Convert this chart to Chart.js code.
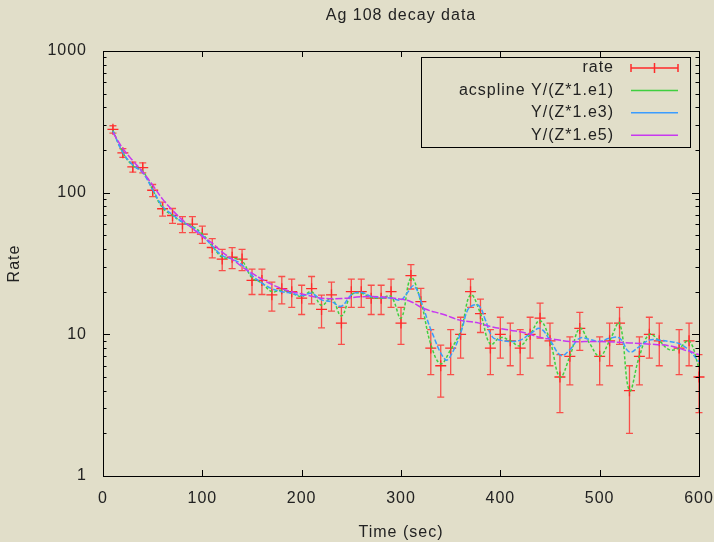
<!DOCTYPE html>
<html>
<head>
<meta charset="utf-8">
<script src="https://cdn.jsdelivr.net/npm/chart.js@4/dist/chart.umd.min.js"></script>
<style>
  html, body { margin: 0; padding: 0; background: #e1dec9; }
  canvas { display: block; }
</style>
</head>
<body>
<canvas id="chart" width="714" height="542"></canvas>
<script>
// 測定データ (rate)
const rateTime = [10, 20, 30, 40, 50, 60, 70, 80, 90, 100,
  110, 120, 130, 140, 150, 160, 170, 180, 190, 200,
  210, 220, 230, 240, 250, 260, 270, 280, 290, 300,
  310, 320, 330, 340, 350, 360, 370, 380, 390, 400,
  410, 420, 430, 440, 450, 460, 470, 480,
  500, 510, 520, 530, 540, 550, 560,
  580, 590, 600];
const rateValue = [280, 191, 152, 150, 104, 77, 69, 60, 60, 51,
  41, 34, 35, 34, 24, 24, 19, 21, 20, 18,
  21, 15, 19, 12, 20, 20, 18, 18, 20, 12,
  26, 17, 8, 6, 8, 10, 20, 14, 8, 10,
  9, 8, 10, 13, 9, 5, 7, 11,
  7, 9, 12, 4, 7, 10, 9,
  8, 9, 5];
const rateErr = [16.7, 13.8, 12.3, 12.2, 10.2, 8.8, 8.3, 7.7, 7.7, 7.1,
  6.4, 5.8, 5.9, 5.8, 4.9, 4.9, 4.4, 4.6, 4.5, 4.2,
  4.6, 3.9, 4.4, 3.5, 4.5, 4.5, 4.2, 4.2, 4.5, 3.5,
  5.1, 4.1, 2.8, 2.4, 2.8, 3.2, 4.5, 3.7, 2.8, 3.2,
  3.0, 2.8, 3.2, 3.6, 3.0, 2.2, 2.6, 3.3,
  2.6, 3.0, 3.5, 2.0, 2.6, 3.2, 3.0,
  2.8, 3.0, 2.2];

// acspline Y/(Z*1.e1)
const e1Time = [10, 20, 30, 40, 50, 60, 70, 80, 90, 100,
  110, 120, 130, 140, 150, 160, 170, 180, 190, 200,
  210, 220, 230, 240, 250, 260, 270, 280, 290, 300,
  310, 320, 330, 340, 350, 360, 370, 380, 390, 400,
  410, 420, 430, 440, 450, 460, 470, 480, 490, 500,
  510, 520, 530, 540, 550, 560, 570, 580, 590, 600];
const e1Rate = [275, 192, 155, 142, 105, 78, 69, 62, 58, 51,
  42, 35, 34.5, 33, 25, 23, 20, 20.5, 19.5, 18.5,
  20, 16, 18, 13.5, 19, 19.5, 18.2, 18, 18.5, 13,
  25, 17, 8.5, 6.2, 7.8, 10.5, 19, 14, 8.5, 9.5,
  9, 8.3, 10, 12.5, 9, 5, 7, 11, 8.6, 7,
  9, 12, 4, 7, 10, 9, 7.8, 8, 9, 5.8];

// Y/(Z*1.e3)
const e3Time = [10, 20, 30, 40, 50, 60, 70, 80, 90, 100,
  110, 120, 130, 140, 150, 160, 170, 180, 190, 200,
  210, 220, 230, 240, 250, 260, 270, 280, 290, 300,
  306, 313, 321, 331, 345, 352, 361, 367, 373, 379, 385, 392,
  400, 410, 420, 431, 440, 450, 461, 470, 480, 490,
  500, 510, 520, 530, 540, 550, 560, 570, 580, 590, 600];
const e3Rate = [272, 192, 157, 138, 105, 80, 70, 62, 57, 50,
  42, 36, 34, 31, 26, 23, 21, 20, 19.5, 18.8,
  19.5, 17.5, 17, 15.8, 19, 19.8, 18.5, 18.2, 18, 17.5,
  19.5, 22, 16.5, 10.4, 6.6, 7.5, 10.7, 14.8, 16.1, 15.8, 12.6, 9.6,
  9.1, 8.9, 9.1, 10.2, 11, 9.1, 7.1, 7.8, 9.4, 9.2,
  8.9, 9.4, 9.4, 7.5, 8.2, 9.1, 9.1, 8.9, 8.6, 7.7, 6.4];

// Y/(Z*1.e5)
const e5Time = [10, 20, 30, 40, 50, 60, 70, 80, 90, 100,
  110, 120, 130, 140, 150, 160, 170, 180, 190, 200,
  210, 220, 240, 260, 280, 300, 310, 323, 343, 359,
  376, 391, 410, 426, 440, 455, 470, 500, 530, 553,
  570, 587, 600];
const e5Rate = [265, 205, 168, 140, 113, 90, 75, 64, 56, 49,
  44, 38, 34, 30, 27, 24.5, 22.5, 21, 20, 19.3,
  18.6, 18, 17.9, 18.4, 18.4, 17.7, 17, 15.2, 13.8, 12.6,
  12.1, 11.3, 10.7, 10.2, 9.5, 9.2, 8.9, 8.9, 8.7, 8.5,
  8.3, 7.7, 7.2];

// 目盛り
const xTicks = [0, 100, 200, 300, 400, 500, 600];
const yTicks = [1, 10, 100, 1000];

const legendLabels = ["rate", "acspline Y/(Z*1.e1)", "Y/(Z*1.e3)", "Y/(Z*1.e5)"];
const colors = ["#ff2a2a", "#3fcf3f", "#3a9cff", "#c838f0"];

const toPoints = (xs, ys) => xs.map((t, i) => ({ x: t, y: ys[i] }));

// errorbars, frame, inward ticks, title and key, gnuplot style
const gnuplotLook = {
  id: "gnuplotLook",
  beforeDraw(chart) {
    // gnuplot の文字は字間が広い
    chart.ctx.letterSpacing = "1px";
  },
  beforeDatasetsDraw(chart) {
    const { ctx, scales: { x, y } } = chart;
    ctx.save();
    ctx.strokeStyle = colors[0];
    ctx.globalAlpha = 0.8;
    ctx.lineWidth = 1.3;
    ctx.beginPath();
    rateTime.forEach((t, i) => {
      const px = x.getPixelForValue(t);
      const top = y.getPixelForValue(rateValue[i] + rateErr[i]);
      const bot = y.getPixelForValue(rateValue[i] - rateErr[i]);
      ctx.moveTo(px, top); ctx.lineTo(px, bot);
      ctx.moveTo(px - 3.5, top); ctx.lineTo(px + 3.5, top);
      ctx.moveTo(px - 3.5, bot); ctx.lineTo(px + 3.5, bot);
    });
    ctx.stroke();
    ctx.restore();
  },
  afterDraw(chart) {
    const { ctx, chartArea: a, scales: { x, y } } = chart;
    ctx.save();
    ctx.strokeStyle = "#000";
    ctx.lineWidth = 1;
    ctx.strokeRect(a.left + 0.5, a.top + 0.5, a.right - a.left, a.bottom - a.top);

    ctx.beginPath();
    xTicks.forEach((v) => {
      const px = Math.round(x.getPixelForValue(v)) + 0.5;
      ctx.moveTo(px, a.bottom); ctx.lineTo(px, a.bottom - 6);
      ctx.moveTo(px, a.top); ctx.lineTo(px, a.top + 6);
    });
    yTicks.forEach((d, k) => {
      for (let m = 1; m <= 9; m++) {
        if (k === yTicks.length - 1 && m > 1) break;
        const py = Math.round(y.getPixelForValue(d * m)) + 0.5;
        const len = m === 1 ? 7 : 3.5;
        ctx.moveTo(a.left, py); ctx.lineTo(a.left + len, py);
        ctx.moveTo(a.right, py); ctx.lineTo(a.right - len, py);
      }
    });
    ctx.stroke();

    // title
    ctx.fillStyle = "#222";
    ctx.font = "16px 'Liberation Sans', Arial, sans-serif";
    ctx.letterSpacing = "1px";
    ctx.textAlign = "center";
    ctx.textBaseline = "middle";
    ctx.fillText("Ag 108 decay data", (a.left + a.right) / 2, 16);

    // key
    ctx.strokeRect(421.5, 57.5, 269, 90);
    ctx.textAlign = "right";
    legendLabels.forEach((label, i) => {
      const ly = 68 + i * 22.4;
      ctx.fillStyle = "#222";
      ctx.fillText(label, 614, ly);
      ctx.strokeStyle = colors[i];
      ctx.lineWidth = 1.5;
      ctx.beginPath();
      ctx.moveTo(631, ly); ctx.lineTo(678, ly);
      if (i === 0) {
        ctx.moveTo(631, ly - 4); ctx.lineTo(631, ly + 4);
        ctx.moveTo(678, ly - 4); ctx.lineTo(678, ly + 4);
        ctx.moveTo(654.5, ly - 5); ctx.lineTo(654.5, ly + 5);
      }
      ctx.stroke();
    });
    ctx.restore();
  },
};

Chart.defaults.font.family = "'Liberation Sans', Arial, sans-serif";
Chart.defaults.font.size = 16;
Chart.defaults.color = "#222";

const curve = (label, xs, ys, color, dash, order) => ({
  label,
  data: toPoints(xs, ys),
  showLine: true,
  borderColor: color,
  backgroundColor: color,
  borderWidth: 1.5,
  borderDash: dash,
  pointRadius: 0,
  tension: 0.4,
  order,
});

new Chart(document.getElementById("chart"), {
  type: "scatter",
  data: {
    datasets: [
      {
        label: legendLabels[0],
        data: toPoints(rateTime, rateValue),
        pointStyle: "cross",
        pointRadius: 5.5,
        borderWidth: 1.3,
        borderColor: colors[0],
        backgroundColor: colors[0],
        clip: false,
        order: 4,
      },
      curve(legendLabels[1], e1Time, e1Rate, colors[1], [3, 2], 3),
      curve(legendLabels[2], e3Time, e3Rate, colors[2], [5, 2], 2),
      curve(legendLabels[3], e5Time, e5Rate, colors[3], [7, 2], 1),
    ],
  },
  options: {
    responsive: false,
    animation: false,
    layout: { padding: { top: 51, right: 15, bottom: 0, left: 0 } },
    plugins: {
      legend: { display: false },
      tooltip: { enabled: false },
    },
    scales: {
      x: {
        type: "linear",
        min: 0,
        max: 600,
        afterBuildTicks: (s) => { s.ticks = xTicks.map((v) => ({ value: v })); },
        ticks: { padding: 13, maxRotation: 0 },
        grid: { display: false, drawTicks: false },
        border: { display: false },
        title: { display: true, text: "Time (sec)", padding: { top: 0, bottom: 0 } },
        afterFit: (s) => { s.height = 66; s.paddingLeft = 0; s.paddingRight = 0; },
      },
      y: {
        type: "logarithmic",
        min: 1,
        max: 1000,
        afterBuildTicks: (s) => { s.ticks = yTicks.map((v) => ({ value: v, major: true })); },
        ticks: { padding: 16, callback: (v) => String(v) },
        grid: { display: false, drawTicks: false },
        border: { display: false },
        title: { display: true, text: "Rate", padding: { top: 5, bottom: 0 } },
        afterFit: (s) => { s.width = 103; s.paddingTop = 0; s.paddingBottom = 0; },
      },
    },
  },
  plugins: [gnuplotLook],
});
</script>
</body>
</html>
